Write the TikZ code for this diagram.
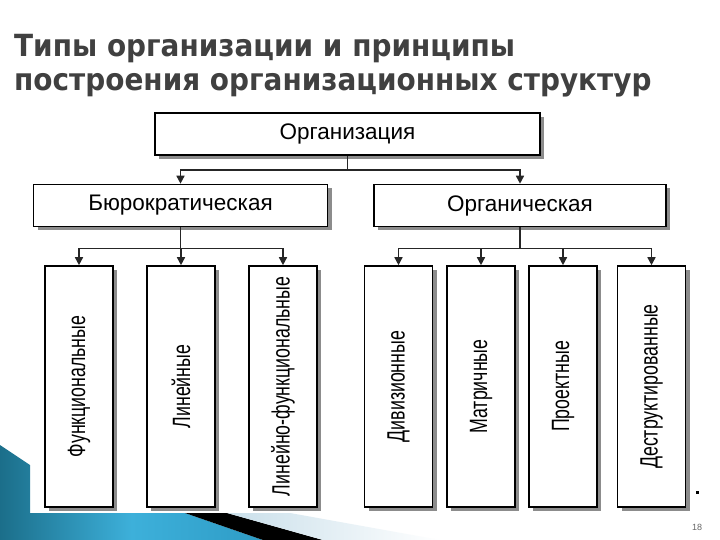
\documentclass[tikz,border=0pt]{standalone}
\usepackage{fontspec}
\setmainfont{Liberation Sans}
\newfontfamily\titlefont{DejaVu Sans}
\usetikzlibrary{arrows.meta,shadows}
\definecolor{titlegray}{HTML}{404040}
\definecolor{tealdark}{HTML}{1B6E8A}
\definecolor{tealmid}{HTML}{2E9CC6}
\definecolor{teallight}{HTML}{3DB0DA}
\definecolor{paleblue}{HTML}{C9DFEA}
\begin{document}
\begin{tikzpicture}[x=1pt,y=-1pt,
  boxstyle/.style={draw=black, line width=1.6pt, fill=white, inner sep=0pt,
    general shadow={fill=black!45, shadow xshift=4pt, shadow yshift=-4pt}},
  hbox/.style={boxstyle, minimum height=42pt, font=\fontsize{22.5}{27}\selectfont},
  vbox/.style={boxstyle, minimum width=68pt, minimum height=241pt},
  vtext/.style={rotate=90, inner sep=0pt, font=\fontsize{25}{30}\selectfont},
  conn/.style={line width=1.5pt, draw=black!85},
  arr/.style={conn, -{Triangle[width=8pt,length=8pt]}},
  titletext/.style={anchor=base west, inner sep=0pt, text=titlegray,
    font=\titlefont\bfseries\fontsize{30.5}{36}\selectfont},
]
\useasboundingbox (0,0) rectangle (720,540);
\fill[white] (0,0) rectangle (720,540);

% bottom-left decoration
\shade[left color=tealdark, right color=tealmid, middle color=teallight]
  (0,445) -- (30,465) -- (30,513) -- (185,513) -- (263,540) -- (0,540) -- cycle;
\fill[black] (185,513) -- (227,513) -- (323,540) -- (263,540) -- cycle;
\shade[left color=paleblue, right color=white]
  (227,513) -- (290,513) -- (440,540) -- (323,540) -- cycle;

% title
\node[titletext] (t1) at (14,57) {\scalebox{0.915}[1]{Типы организации и принципы}};
\node[titletext] (t2) at (14,91) {\scalebox{0.915}[1]{построения организационных структур}};

% boxes
\node[hbox, minimum width=385pt] (org) at (347.5,134) {Организация};
\node[hbox, minimum width=294pt] (bur) at (180.5,205.5) {Бюрократическая};
\node[hbox, minimum width=292pt] (orgn) at (520,205.5) {Органическая};

\node[vbox] (c1) at (79,386.5) {};
\node[vbox] (c2) at (181,386.5) {};
\node[vbox] (c3) at (283,386.5) {};
\node[vbox] (c4) at (398.5,386.5) {};
\node[vbox] (c5) at (481,386.5) {};
\node[vbox] (c6) at (563,386.5) {};
\node[vbox] (c7) at (651.5,386.5) {};

\node[vtext] (l1) at (c1) {\scalebox{0.71}[1]{Функциональные}};
\node[vtext] (l2) at (c2) {\scalebox{0.71}[1]{Линейные}};
\node[vtext] (l3) at (c3) {\scalebox{0.71}[1]{Линейно-функциональные}};
\node[vtext] (l4) at (c4) {\scalebox{0.71}[1]{Дивизионные}};
\node[vtext] (l5) at (c5) {\scalebox{0.71}[1]{Матричные}};
\node[vtext] (l6) at (c6) {\scalebox{0.71}[1]{Проектные}};
\node[vtext] (l7) at (c7) {\scalebox{0.71}[1]{Деструктированные}};

% connectors
\draw[conn] (org.south) -- ++(0,14) coordinate (oj);
\draw[arr] (oj) -| (bur.north);
\draw[arr] (oj) -| (orgn.north);

\draw[conn] (bur.south) -- ++(0,21) coordinate (bj);
\foreach \c in {c1,c2,c3} \draw[arr] (bj) -| (\c.north);

\draw[conn] (orgn.south) -- ++(0,21) coordinate (gj);
\foreach \c in {c4,c5,c6,c7} \draw[arr] (gj) -| (\c.north);

% slide marks
\fill[black] (695.5,490.5) rectangle (698.5,493.5);
\node[font=\fontsize{9}{10}\selectfont, text=black!60, inner sep=0pt] (pg) at (697,527) {18};
\end{tikzpicture}
\end{document}
